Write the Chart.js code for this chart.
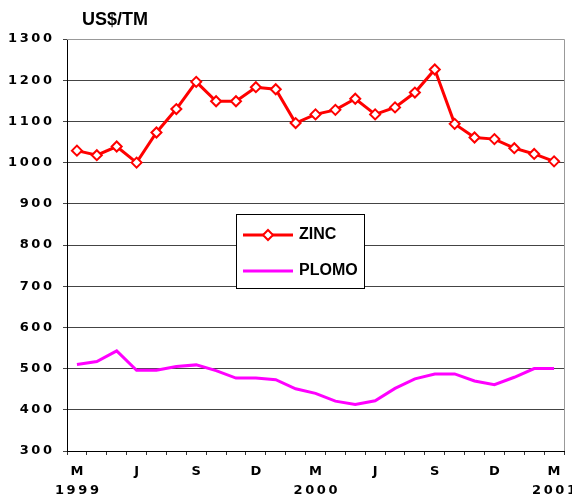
<!DOCTYPE html>
<html>
<head>
<meta charset="utf-8">
<script src="https://cdn.jsdelivr.net/npm/chart.js@4.4.0/dist/chart.umd.min.js"></script>
<style>
  html, body { margin: 0; padding: 0; background: #fff; }
  #wrap { width: 572px; height: 496px; }
</style>
</head>
<body>
<div id="wrap"><canvas id="priceChart" width="572" height="496"></canvas></div>
<script>
// months Mar 1999 .. Mar 2001
const months = ['M','A','M','J','J','A','S','O','N','D','E','F',
                'M','A','M','J','J','A','S','O','N','D','E','F','M'];
const yearLabels = {0: '1999', 12: '2000', 24: '2001'};

const zinc = [1029, 1018, 1039, 1000, 1073, 1130, 1196, 1149, 1149, 1183, 1178, 1096,
              1117, 1128, 1155, 1117, 1134, 1170, 1226, 1094, 1061, 1057, 1035, 1021, 1003];
const plomo = [510, 517, 543, 496, 496, 505, 509, 495, 477, 477, 473, 451,
               440, 421, 413, 422, 452, 475, 487, 487, 470, 461, 479, 500, 500];

const yTicks = [300, 400, 500, 600, 700, 800, 900, 1000, 1100, 1200, 1300];

// the original prints digits letter-spaced
const spaced = (s) => String(s).split('').join('\u2009');

const labels = months.map((m, i) => yearLabels[i] ? [m, spaced(yearLabels[i])] : m);

// title and legend box drawn by hand
const extras = {
  id: 'extras',
  afterDraw(chart) {
    const ctx = chart.ctx;
    ctx.save();
    ctx.fillStyle = '#000';
    ctx.font = 'bold 18px "Liberation Sans", Arial, sans-serif';
    ctx.textBaseline = 'middle';
    ctx.fillText('US$/TM', 82, 20);

    // legend
    ctx.fillStyle = '#fff';
    ctx.fillRect(236, 214, 128, 74);
    ctx.strokeStyle = '#000';
    ctx.lineWidth = 1;
    ctx.strokeRect(236.5, 214.5, 128, 74);

    ctx.lineWidth = 3;
    ctx.strokeStyle = '#ff0000';
    ctx.beginPath(); ctx.moveTo(243, 235); ctx.lineTo(293, 235); ctx.stroke();
    ctx.fillStyle = '#fff';
    ctx.lineWidth = 2;
    ctx.beginPath();
    ctx.moveTo(268, 230); ctx.lineTo(273, 235); ctx.lineTo(268, 240); ctx.lineTo(263, 235); ctx.closePath();
    ctx.fill(); ctx.stroke();

    ctx.lineWidth = 3;
    ctx.strokeStyle = '#ff00ff';
    ctx.beginPath(); ctx.moveTo(243, 271); ctx.lineTo(293, 271); ctx.stroke();

    ctx.fillStyle = '#000';
    ctx.font = 'bold 16px "Liberation Sans", Arial, sans-serif';
    ctx.fillText('ZINC', 299, 235);
    ctx.fillText('PLOMO', 299, 271);

    // right / top frame
    ctx.strokeStyle = '#999';
    ctx.lineWidth = 1;
    const a = chart.chartArea;
    ctx.beginPath();
    ctx.moveTo(a.left, a.top + 0.5); ctx.lineTo(a.right + 0.5, a.top + 0.5); ctx.lineTo(a.right + 0.5, a.bottom);
    ctx.stroke();
    ctx.restore();
  }
};

const ctx = document.getElementById('priceChart').getContext('2d');
const myChart = new Chart(ctx, {
  type: 'line',
  data: {
    labels: labels,
    datasets: [{
      label: 'ZINC',
      data: zinc,
      borderColor: '#ff0000',
      borderWidth: 3,
      pointStyle: 'rectRot',
      pointRadius: 5,
      pointBorderWidth: 2,
      pointBackgroundColor: '#ffffff',
      pointBorderColor: '#ff0000',
      tension: 0
    }, {
      label: 'PLOMO',
      data: plomo,
      borderColor: '#ff00ff',
      borderWidth: 3,
      pointRadius: 0,
      tension: 0
    }]
  },
  options: {
    responsive: false,
    animation: false,
    layout: { padding: { top: 39, right: 8, left: 0, bottom: 0 } },
    plugins: {
      legend: { display: false },
      tooltip: { enabled: false }
    },
    scales: {
      x: {
        offset: true,
        afterFit: (s) => { s.height = 45; s.paddingLeft = 0; s.paddingRight = 0; },
        grid: {
          offset: true,
          drawOnChartArea: false,
          tickLength: 4,
          color: '#333'
        },
        border: { color: '#000', width: 1 },
        ticks: {
          autoSkip: false,
          maxRotation: 0,
          padding: 8,
          color: '#000',
          font: { family: '"DejaVu Sans", Verdana, sans-serif', size: 13, weight: 'bold', lineHeight: 1.4 },
          callback: function(v, i) { return i % 3 === 0 ? labels[i] : ''; }
        }
      },
      y: {
        min: yTicks[0],
        max: yTicks[yTicks.length - 1],
        afterFit: (s) => { s.width = 67; s.paddingTop = 0; s.paddingBottom = 0; },
        afterBuildTicks: (s) => { s.ticks = yTicks.map(v => ({ value: v })); },
        grid: { color: '#444', tickLength: 4 },
        border: { color: '#000', width: 1 },
        ticks: {
          padding: 11,
          color: '#000',
          font: { family: '"DejaVu Sans", Verdana, sans-serif', size: 13, weight: 'bold' },
          callback: (v) => spaced(v)
        }
      }
    }
  },
  plugins: [extras]
});
</script>
</body>
</html>
